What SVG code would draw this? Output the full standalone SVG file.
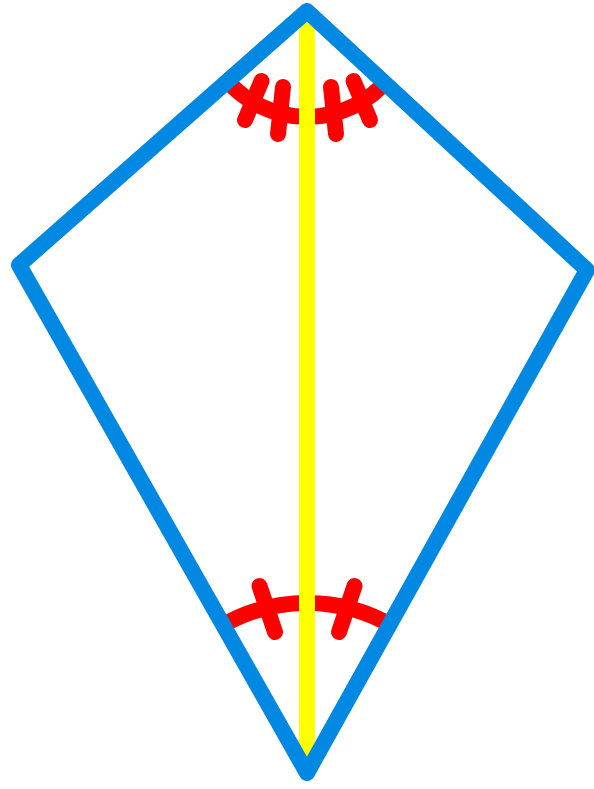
<svg xmlns="http://www.w3.org/2000/svg" width="594" height="789" viewBox="0 0 594 789">
<style>
.red{fill:none;stroke:#ff0000;stroke-width:16}
.tick{stroke:#ff0000;stroke-width:16;stroke-linecap:round}
.axis{stroke:#ffff00;stroke-width:16}
.kite{fill:none;stroke:#0088e3;stroke-width:16;stroke-linejoin:round}
</style>
<rect width="594" height="789" fill="#ffffff"/>
<g id="angle-marks">
<path class="red" d="M225.8,79.1 A106,106 0 0 0 388.2,79.1"/>
<line class="tick" x1="261.5" y1="81" x2="245" y2="120"/>
<line class="tick" x1="283" y1="87" x2="278" y2="134"/>
<line class="tick" x1="331" y1="87" x2="336" y2="134"/>
<line class="tick" x1="353.5" y1="81" x2="370" y2="120"/>
<path class="red" d="M219.4,627.3 A170,170 0 0 1 394.6,627.3"/>
<line class="tick" x1="259.5" y1="586" x2="275" y2="632"/>
<line class="tick" x1="354.5" y1="586" x2="339" y2="632"/>
</g>
<g id="axis">
<line class="axis" x1="307" y1="11" x2="307" y2="773"/>
</g>
<g id="kite">
<polygon class="kite" points="307,11 587,270 307,773 19,265"/>
</g>
</svg>
